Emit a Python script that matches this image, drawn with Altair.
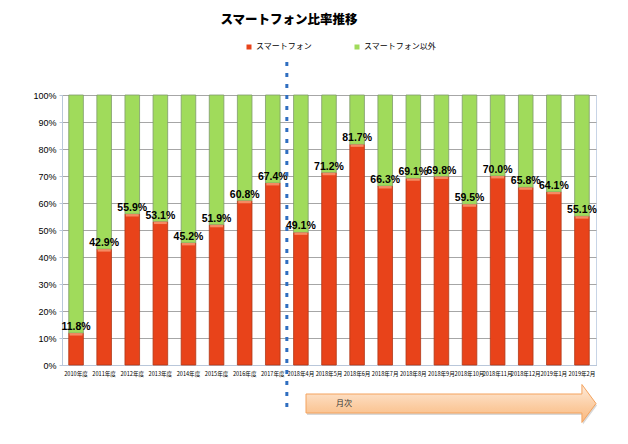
import altair as alt
import pandas as pd

categories = ["2010年度", "2011年度", "2012年度", "2013年度", "2014年度", "2015年度",
              "2016年度", "2017年度", "2018年4月", "2018年5月", "2018年6月", "2018年7月",
              "2018年8月", "2018年9月", "2018年10月", "2018年11月", "2018年12月",
              "2019年1月", "2019年2月"]
smartphone = [11.8, 42.9, 55.9, 53.1, 45.2, 51.9, 60.8, 67.4, 49.1, 71.2, 81.7,
              66.3, 69.1, 69.8, 59.5, 70.0, 65.8, 64.1, 55.1]
series_names = ["スマートフォン", "スマートフォン以外"]
bar_colors = ["#E8431A", "#A0DB5B"]
edge_colors = ["#B03818", "#7F9A6C"]
title_text = "スマートフォン比率推移"
arrow_text = "月次"
split_category = "2018年4月"

JP = "Noto Sans CJK JP"
SANS = "Liberation Sans Narrow, Liberation Sans, Noto Sans CJK JP"

rows = []
for c, v in zip(categories, smartphone):
    rows.append({"cat": c, "series": series_names[0], "lo": 0.0, "hi": v})
    rows.append({"cat": c, "series": series_names[1], "lo": v, "hi": 100.0})
df = pd.DataFrame(rows)
sp = pd.DataFrame({"cat": categories, "v": smartphone})
sp["label"] = [f"{v:.1f}%" for v in smartphone]

xscale = alt.Scale(domain=categories, paddingInner=0, paddingOuter=0)
yscale = alt.Scale(domain=[0, 100], nice=False)

x_axis = alt.Axis(title=None, labelAngle=0, labelFontSize=5.6, labelFont=JP,
                  labelColor="#000000", labelPadding=6, ticks=False,
                  domainColor="#B9C7DA", labelOverlap=False, labelLimit=200)
y_axis = alt.Axis(title=None, values=list(range(0, 101, 10)),
                  labelExpr="datum.value + '%'", gridColor="#A6A6A6",
                  domainColor="#B9C7DA", tickSize=3, tickColor="#B9C7DA",
                  labelFontSize=9, labelFont=SANS, labelColor="#000000",
                  labelPadding=3)

X = alt.X("cat:N", scale=xscale, axis=x_axis)

bars = alt.Chart(df).mark_bar(width=alt.RelativeBandSize(0.52), strokeWidth=0.8).encode(
    x=X,
    y=alt.Y("lo:Q", scale=yscale, axis=y_axis),
    y2="hi:Q",
    color=alt.Color("series:N", scale=alt.Scale(domain=series_names, range=bar_colors),
                    legend=alt.Legend(title=None, orient="none", legendX=183, legendY=-52,
                                      direction="horizontal", symbolType="square",
                                      symbolSize=25, symbolStrokeWidth=0,
                                      labelFontSize=8, labelFont=JP, labelColor="#000000",
                                      columnPadding=41, labelOffset=3)),
    stroke=alt.Stroke("series:N", scale=alt.Scale(domain=series_names, range=edge_colors),
                      legend=None),
)

highlight = alt.Chart(sp).transform_calculate(hl="datum.v - 0.9").mark_bar(
    width=alt.RelativeBandSize(0.46), color="#F58A62").encode(
    x=X,
    y=alt.Y("hl:Q", scale=yscale, axis=y_axis),
    y2="v:Q",
)

labels = alt.Chart(sp).mark_text(font=SANS, fontSize=10.5, fontWeight="bold",
                                 baseline="bottom", dy=-1, color="#000000").encode(
    x=X,
    y=alt.Y("v:Q", scale=yscale, axis=y_axis),
    text="label:N",
)

divider = alt.Chart(pd.DataFrame({"cat": [split_category]})).mark_rule(
    strokeDash=[4, 7], strokeWidth=3, color="#2F6EC0", strokeCap="butt").encode(
    x=alt.X("cat:N", scale=xscale, axis=x_axis, bandPosition=0),
    y=alt.value(-33),
    y2=alt.value(317),
)

arrow_path = ("M -1 -0.0655 L 0.903 -0.0655 L 0.903 -0.131 L 1 0 "
              "L 0.903 0.131 L 0.903 0.0655 L -1 0.0655 Z")
one = pd.DataFrame({"k": [0]})
arrow_shadow = alt.Chart(one).mark_point(
    shape=arrow_path, size=84100, filled=True, fill="#C8C8C8", opacity=0.7,
    strokeWidth=0).encode(x=alt.value(390), y=alt.value(310.5))
arrow = alt.Chart(one).mark_point(
    shape=arrow_path, size=84100, filled=True, opacity=1,
    fill=alt.Gradient(gradient="linear",
                      stops=[alt.GradientStop(color="#FEEBDB", offset=0),
                             alt.GradientStop(color="#FBCB9F", offset=0.6),
                             alt.GradientStop(color="#F9B980", offset=1)],
                      x1=0, x2=0, y1=0, y2=1),
    stroke="#F4A35E", strokeWidth=1).encode(x=alt.value(389), y=alt.value(308.5))
arrow_label = alt.Chart(one).mark_text(text=arrow_text, font=JP, fontSize=8,
                                       color="#333333").encode(
    x=alt.value(282), y=alt.value(308.5))

title = alt.Chart(one).mark_text(text=title_text, font=JP, fontSize=12.5,
                                 fontWeight=900, color="#000000").encode(
    x=alt.value(227), y=alt.value(-75))

chart = alt.layer(bars, highlight, labels, divider, arrow_shadow, arrow, arrow_label, title).properties(
    width=534, height=270,
    autosize=alt.AutoSizeParams(type="none"),
    padding={"left": 54, "top": 87, "right": 24, "bottom": 71},
    background="white",
).configure_view(stroke="#C7D4E6")

chart.save("out.html", embed_options={"renderer": "svg", "actions": False})
